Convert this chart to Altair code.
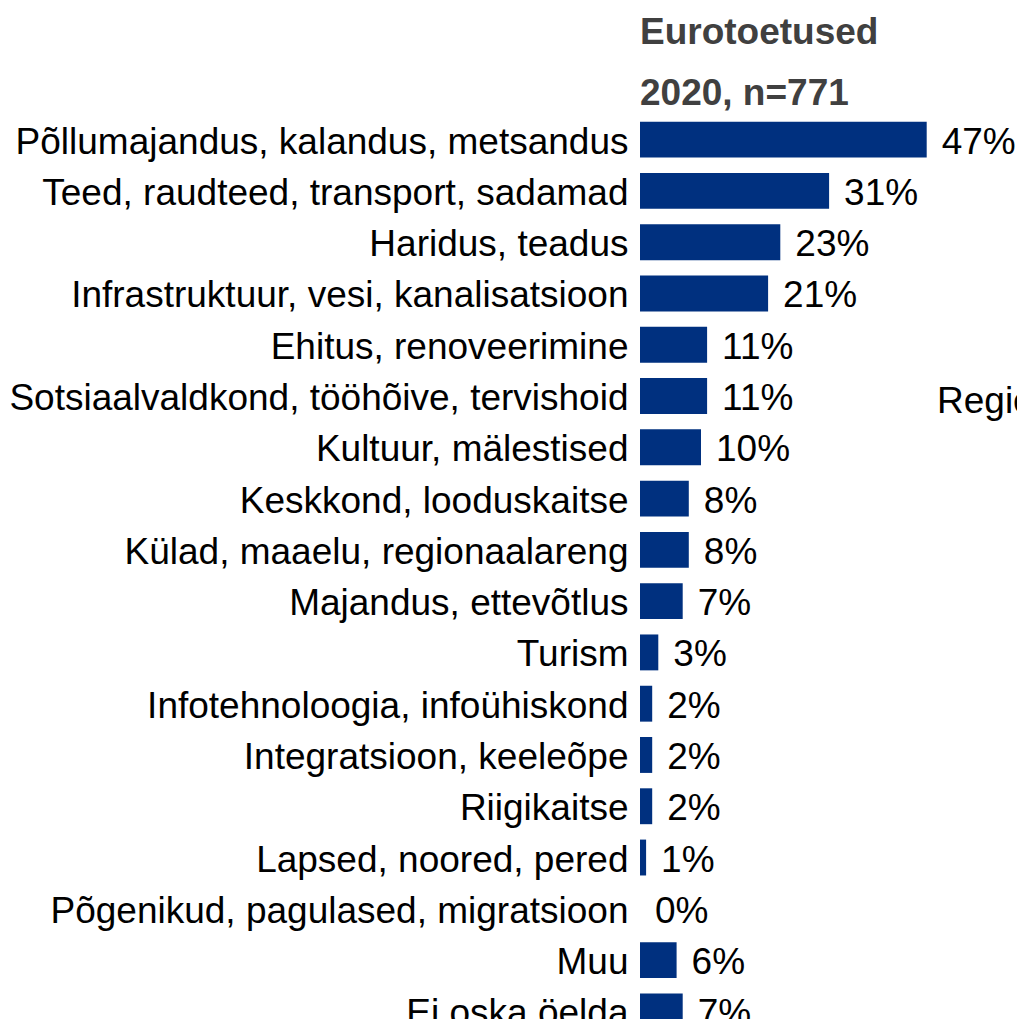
import altair as alt
import pandas as pd

categories = [
    "Põllumajandus, kalandus, metsandus",
    "Teed, raudteed, transport, sadamad",
    "Haridus, teadus",
    "Infrastruktuur, vesi, kanalisatsioon",
    "Ehitus, renoveerimine",
    "Sotsiaalvaldkond, tööhõive, tervishoid",
    "Kultuur, mälestised",
    "Keskkond, looduskaitse",
    "Külad, maaelu, regionaalareng",
    "Majandus, ettevõtlus",
    "Turism",
    "Infotehnoloogia, infoühiskond",
    "Integratsioon, keeleõpe",
    "Riigikaitse",
    "Lapsed, noored, pered",
    "Põgenikud, pagulased, migratsioon",
    "Muu",
    "Ei oska öelda",
]
values = [47, 31, 23, 21, 11, 11, 10, 8, 8, 7, 3, 2, 2, 2, 1, 0, 6, 7]
title_lines = ["Eurotoetused", "2020, n=771"]
side_text = "Regio"

df = pd.DataFrame({
    "cat": categories,
    "val": values,
    "lbl": [f"{v}%" for v in values],
})

FONT = "Liberation Sans"
FS = 37
BLUE = "#00307f"

y_enc = alt.Y(
    "cat:N",
    sort=categories,
    scale=alt.Scale(range=[0, 923], paddingInner=0.3, paddingOuter=0.15),
    axis=alt.Axis(
        title=None, domain=False, ticks=False, labelPadding=12,
        labelFontSize=FS, labelFont=FONT, labelColor="#000000",
        labelLimit=0, labelOffset=3,
    ),
)
x_enc = alt.X(
    "val:Q",
    scale=alt.Scale(domain=[0, 100], range=[0, 610]),
    axis=None,
)

base = alt.Chart(df)
bars = base.mark_bar(color=BLUE, strokeWidth=0).encode(x=x_enc, y=y_enc)
texts = base.mark_text(
    align="left", baseline="middle", dx=15, dy=3, fontSize=FS, font=FONT, color="#000000"
).encode(x=x_enc, y=y_enc, text="lbl:N")

side = alt.Chart(pd.DataFrame({"t": [side_text]})).mark_text(
    align="left", baseline="middle", fontSize=FS, font=FONT, color="#000000"
).encode(x=alt.value(297), y=alt.value(288), text="t:N")

chart = (bars + texts + side).properties(
    width=377,
    height=905,
    title=alt.Title(
        title_lines, anchor="start", frame="group", fontSize=FS, font=FONT,
        fontWeight="bold", color="#404040", lineHeight=61, offset=1,
    ),
    autosize=alt.AutoSizeParams(type="none"),
    padding={"left": 632, "top": 106, "right": 0, "bottom": 0},
).configure_view(stroke=None)

chart.save("out.html", embed_options={"renderer": "svg", "actions": False})
